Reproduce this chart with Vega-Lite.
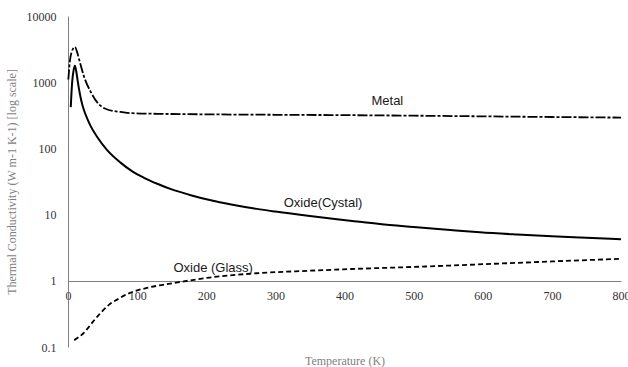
{
  "$schema": "https://vega.github.io/schema/vega-lite/v6.json",
  "width": 553,
  "height": 331,
  "autosize": {"type": "none"},
  "padding": {"left": 68, "top": 16, "right": 7, "bottom": 20},
  "background": "white",
  "config": {"view": {"stroke": null}, "font": "Liberation Serif"},
  "datasets": {
    "curves": [
      {"series": "Metal", "T": 0.5, "k": 1100},
      {"series": "Metal", "T": 3, "k": 2200},
      {"series": "Metal", "T": 5, "k": 2800},
      {"series": "Metal", "T": 10, "k": 3400},
      {"series": "Metal", "T": 13, "k": 2900},
      {"series": "Metal", "T": 16, "k": 2230},
      {"series": "Metal", "T": 23, "k": 1230},
      {"series": "Metal", "T": 33, "k": 710},
      {"series": "Metal", "T": 42, "k": 500},
      {"series": "Metal", "T": 56, "k": 390},
      {"series": "Metal", "T": 76, "k": 355},
      {"series": "Metal", "T": 93, "k": 340},
      {"series": "Metal", "T": 130, "k": 333},
      {"series": "Metal", "T": 200, "k": 327},
      {"series": "Metal", "T": 300, "k": 322},
      {"series": "Metal", "T": 400, "k": 318},
      {"series": "Metal", "T": 500, "k": 312},
      {"series": "Metal", "T": 600, "k": 305},
      {"series": "Metal", "T": 700, "k": 298},
      {"series": "Metal", "T": 800, "k": 292},
      {"series": "Crystal", "T": 4, "k": 420},
      {"series": "Crystal", "T": 6, "k": 1000},
      {"series": "Crystal", "T": 8, "k": 1500},
      {"series": "Crystal", "T": 10, "k": 1770},
      {"series": "Crystal", "T": 12, "k": 1450},
      {"series": "Crystal", "T": 14, "k": 1050},
      {"series": "Crystal", "T": 16, "k": 780},
      {"series": "Crystal", "T": 19, "k": 540},
      {"series": "Crystal", "T": 23, "k": 380},
      {"series": "Crystal", "T": 28, "k": 280},
      {"series": "Crystal", "T": 33, "k": 215},
      {"series": "Crystal", "T": 42, "k": 150},
      {"series": "Crystal", "T": 56, "k": 96},
      {"series": "Crystal", "T": 76, "k": 61},
      {"series": "Crystal", "T": 93, "k": 45},
      {"series": "Crystal", "T": 110, "k": 36},
      {"series": "Crystal", "T": 130, "k": 29},
      {"series": "Crystal", "T": 150, "k": 24},
      {"series": "Crystal", "T": 175, "k": 20},
      {"series": "Crystal", "T": 205, "k": 16.6},
      {"series": "Crystal", "T": 240, "k": 14.0},
      {"series": "Crystal", "T": 273, "k": 12.2},
      {"series": "Crystal", "T": 300, "k": 11.1},
      {"series": "Crystal", "T": 350, "k": 9.5},
      {"series": "Crystal", "T": 408, "k": 8.1},
      {"series": "Crystal", "T": 451, "k": 7.2},
      {"series": "Crystal", "T": 500, "k": 6.5},
      {"series": "Crystal", "T": 553, "k": 5.85},
      {"series": "Crystal", "T": 596, "k": 5.4},
      {"series": "Crystal", "T": 650, "k": 5.0},
      {"series": "Crystal", "T": 700, "k": 4.7},
      {"series": "Crystal", "T": 741, "k": 4.5},
      {"series": "Crystal", "T": 800, "k": 4.25},
      {"series": "Glass", "T": 9, "k": 0.127},
      {"series": "Glass", "T": 15, "k": 0.14},
      {"series": "Glass", "T": 22, "k": 0.16},
      {"series": "Glass", "T": 30, "k": 0.2},
      {"series": "Glass", "T": 36, "k": 0.24},
      {"series": "Glass", "T": 44, "k": 0.3},
      {"series": "Glass", "T": 51, "k": 0.36},
      {"series": "Glass", "T": 60, "k": 0.44},
      {"series": "Glass", "T": 71, "k": 0.52},
      {"series": "Glass", "T": 90, "k": 0.66},
      {"series": "Glass", "T": 114, "k": 0.78},
      {"series": "Glass", "T": 140, "k": 0.88},
      {"series": "Glass", "T": 162, "k": 0.96},
      {"series": "Glass", "T": 205, "k": 1.12},
      {"series": "Glass", "T": 273, "k": 1.3},
      {"series": "Glass", "T": 350, "k": 1.42},
      {"series": "Glass", "T": 420, "k": 1.52},
      {"series": "Glass", "T": 500, "k": 1.62},
      {"series": "Glass", "T": 600, "k": 1.78},
      {"series": "Glass", "T": 700, "k": 1.96},
      {"series": "Glass", "T": 800, "k": 2.15}
    ],
    "labels": [
      {"label": "Metal", "T": 462, "k": 515},
      {"label": "Oxide(Cystal)", "T": 369, "k": 15.2},
      {"label": "Oxide (Glass)", "T": 210, "k": 1.57}
    ]
  },
  "encoding": {
    "x": {
      "field": "T",
      "type": "quantitative",
      "scale": {"domain": [0, 800], "nice": false, "zero": false},
      "axis": {
        "values": [0, 100, 200, 300, 400, 500, 600, 700, 800],
        "offset": -66,
        "ticks": false,
        "grid": false,
        "labelFlush": false,
        "labelOverlap": false,
        "domainColor": "#7f7f7f",
        "labelColor": "#333333",
        "labelFont": "Liberation Serif",
        "labelFontSize": 12,
        "labelPadding": 9,
        "title": "Temperature (K)",
        "titleFont": "Liberation Serif",
        "titleFontSize": 12,
        "titleFontWeight": "normal",
        "titleColor": "#7f7f7f",
        "titleY": 83,
        "titleBaseline": "alphabetic"
      }
    },
    "y": {
      "field": "k",
      "type": "quantitative",
      "scale": {"type": "log", "domain": [0.1, 10000], "nice": false},
      "axis": {
        "values": [0.1, 1, 10, 100, 1000, 10000],
        "format": "~g",
        "ticks": false,
        "grid": false,
        "labelFlush": false,
        "domainColor": "#7f7f7f",
        "labelColor": "#333333",
        "labelFont": "Liberation Serif",
        "labelFontSize": 12,
        "labelPadding": 12,
        "title": "Thermal Conductivity (W m-1 K-1) [log scale]",
        "titleFont": "Liberation Serif",
        "titleFontSize": 12,
        "titleFontWeight": "normal",
        "titleColor": "#7f7f7f",
        "titlePadding": 8
      }
    }
  },
  "layer": [
    {
      "data": {"name": "curves"},
      "transform": [{"filter": "datum.series === 'Metal'"}],
      "mark": {"type": "line", "color": "black", "strokeWidth": 1.8, "strokeDash": [10, 2, 3, 2], "interpolate": "monotone"}
    },
    {
      "data": {"name": "curves"},
      "transform": [{"filter": "datum.series === 'Crystal'"}],
      "mark": {"type": "line", "color": "black", "strokeWidth": 2, "interpolate": "monotone"}
    },
    {
      "data": {"name": "curves"},
      "transform": [{"filter": "datum.series === 'Glass'"}],
      "mark": {"type": "line", "color": "black", "strokeWidth": 1.8, "strokeDash": [5, 3], "interpolate": "monotone"}
    },
    {
      "data": {"name": "labels"},
      "mark": {"type": "text", "font": "Liberation Sans", "fontSize": 13, "color": "#1a1a1a"},
      "encoding": {"text": {"field": "label", "type": "nominal"}}
    }
  ]
}
